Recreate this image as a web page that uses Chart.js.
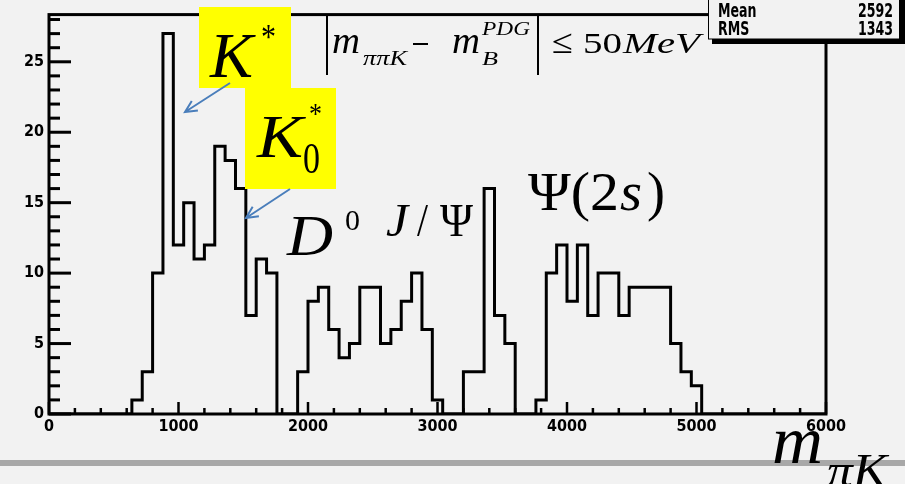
<!DOCTYPE html>
<html>
<head>
<meta charset="utf-8">
<script src="https://cdn.jsdelivr.net/npm/chart.js@4/dist/chart.umd.min.js"></script>
<style>
	html, body { margin: 0; padding: 0; background: #f2f2f2; }
	canvas { display: block; }
</style>
</head>
<body>
<canvas id="histo" width="905" height="484"></canvas>
<script>

// histogram m(piK), 75 bins from 0 to 6000
var xMin = 0;
var xMax = 6000;
var binWidth = 80;
var counts = [
	0, 0, 0, 0, 0, 0, 0, 0,
	1, 3, 10, 27, 12, 15, 11, 12, 19, 18, 16, 7, 11, 10, 0, 0,
	3, 8, 9, 6, 4, 5, 9, 9, 5, 6, 8, 10, 6, 1, 0, 0,
	3, 3, 16, 7, 5, 0, 0,
	1, 10, 12, 8, 12, 7, 10, 10, 7, 9, 9, 9, 9, 5, 3, 2,
	0, 0, 0, 0, 0, 0, 0, 0, 0, 0, 0, 0
];
var yMax = 28.35;
var xTickLabels = [0, 1000, 2000, 3000, 4000, 5000, 6000];
var yTickLabels = [0, 5, 10, 15, 20, 25];
var statNames = ["Mean", "RMS"];
var statValues = ["2592", "1343"];

var narrowBold = "'Liberation Sans Narrow', 'DejaVu Sans Condensed', sans-serif";
var serif = "'Liberation Serif', 'Times New Roman', serif";

function histPoints(){
	var pts = [];
	for (var i = 0; i < counts.length; i++){
		pts.push({ x: xMin + i * binWidth, y: counts[i] });
	}
	pts.push({ x: xMax, y: 0 });
	return pts;
}

function txt(ctx, t, x, y, size, italic, w){
	ctx.save();
	ctx.font = (italic ? "italic " : "") + size + "px " + serif;
	ctx.textAlign = "left";
	ctx.textBaseline = "alphabetic";
	ctx.translate(x, y);
	if (w){
		var mw = ctx.measureText(t).width;
		ctx.scale(w / mw, 1);
	}
	ctx.fillStyle = "#000";
	ctx.fillText(t, 0, 0);
	ctx.restore();
}

function arrow(ctx, x1, y1, x2, y2){
	var a = Math.atan2(y2 - y1, x2 - x1);
	ctx.save();
	ctx.strokeStyle = "#4a7ebb";
	ctx.lineWidth = 2;
	ctx.beginPath();
	ctx.moveTo(x1, y1);
	ctx.lineTo(x2, y2);
	ctx.moveTo(x2 - 13 * Math.cos(a - 0.45), y2 - 13 * Math.sin(a - 0.45));
	ctx.lineTo(x2, y2);
	ctx.lineTo(x2 - 13 * Math.cos(a + 0.45), y2 - 13 * Math.sin(a + 0.45));
	ctx.stroke();
	ctx.restore();
}

var rootStyle = {
	id: 'rootStyle',
	beforeDraw: function(chart){
		var ctx = chart.ctx;
		ctx.save();
		ctx.fillStyle = "#f2f2f2";
		ctx.fillRect(0, 0, chart.width, chart.height);
		ctx.restore();
	},
	afterDatasetsDraw: function(chart){
		var ctx = chart.ctx;
		var a = chart.chartArea;
		var sx = chart.scales.x;
		var sy = chart.scales.y;
		ctx.save();
		ctx.strokeStyle = "#000";
		ctx.lineWidth = 3;
		ctx.strokeRect(a.left, a.top, a.right - a.left, a.bottom - a.top);

		// y ticks, every 1, long at every 5
		for (var v = 0; v <= Math.floor(yMax); v++){
			var py = sy.getPixelForValue(v);
			ctx.beginPath();
			ctx.moveTo(a.left, py);
			ctx.lineTo(a.left + (v % 5 === 0 ? 22 : 11), py);
			ctx.stroke();
		}
		// x ticks, every 200, long at every 1000
		ctx.lineWidth = 2.5;
		for (var u = xMin; u <= xMax; u += 200){
			var px = sx.getPixelForValue(u);
			ctx.beginPath();
			ctx.moveTo(px, a.bottom);
			ctx.lineTo(px, a.bottom - (u % 1000 === 0 ? 12 : 6));
			ctx.stroke();
		}
		ctx.restore();
	},
	afterDraw: function(chart){
		var ctx = chart.ctx;

		// stats box with shadow
		ctx.save();
		ctx.fillStyle = "#000";
		ctx.fillRect(712, -4, 193, 48);
		ctx.fillStyle = "#f2f2f2";
		ctx.fillRect(708, -4, 192, 43);
		ctx.strokeStyle = "#000";
		ctx.lineWidth = 1;
		ctx.strokeRect(708.5, -4, 191, 43);
		ctx.fillStyle = "#000";
		ctx.font = "bold 14px " + narrowBold;
		for (var i = 0; i < statNames.length; i++){
			var by = 17 + i * 18;
			ctx.save();
			ctx.translate(718, by);
			ctx.scale(1, 1.35);
			ctx.textAlign = "left";
			ctx.fillText(statNames[i], 0, 0);
			ctx.restore();
			ctx.save();
			ctx.translate(893, by);
			ctx.scale(1, 1.35);
			ctx.textAlign = "right";
			ctx.fillText(statValues[i], 0, 0);
			ctx.restore();
		}
		ctx.restore();

		// cut formula
		ctx.save();
		ctx.strokeStyle = "#000";
		ctx.lineWidth = 2;
		ctx.beginPath();
		ctx.moveTo(327, 15); ctx.lineTo(327, 75);
		ctx.moveTo(538, 15); ctx.lineTo(538, 75);
		ctx.moveTo(413, 44); ctx.lineTo(428, 44);
		ctx.stroke();
		ctx.restore();
		txt(ctx, "m", 332, 53, 38, true, 28);
		txt(ctx, "ππK", 363, 65, 20, true, 44);
		txt(ctx, "m", 452, 53, 38, true, 28);
		txt(ctx, "PDG", 482, 35, 19, true, 48);
		txt(ctx, "B", 482, 65, 19, true, 16);
		txt(ctx, "≤", 552, 53, 34, false, 21);
		txt(ctx, "50", 583, 53, 30, false, 39);
		txt(ctx, "MeV", 623, 53, 30, true, 77);

		// resonance labels
		ctx.save();
		ctx.fillStyle = "#ffff00";
		ctx.fillRect(199, 7, 92, 81);
		ctx.fillRect(245, 88, 91, 101);
		ctx.restore();
		txt(ctx, "K", 210, 77, 64, true, 43);
		txt(ctx, "*", 261, 49, 36, false, 15);
		txt(ctx, "K", 257, 157, 62, true, 46);
		txt(ctx, "0", 303, 173, 44, false, 17);
		txt(ctx, "*", 309, 123, 30, false, 13);
		arrow(ctx, 230, 83, 185, 112);
		arrow(ctx, 290, 189, 246, 218);

		txt(ctx, "D", 287, 255, 56, true, 46);
		txt(ctx, "0", 345, 230, 29, false, 15);
		txt(ctx, "J", 386, 236, 46, true, 22);
		txt(ctx, "/", 417, 236, 46, false, 11);
		txt(ctx, "Ψ", 440, 236, 46, false, 33);
		txt(ctx, "Ψ(2", 528, 210, 54, false, 91);
		txt(ctx, "s", 620, 210, 54, true, 22);
		txt(ctx, ")", 647, 210, 54, false, 18);

		// slide separator and axis title
		ctx.save();
		ctx.fillStyle = "#a8a8a8";
		ctx.fillRect(0, 460, chart.width, 6);
		ctx.restore();
		txt(ctx, "m", 772, 463, 68, true, 51);
		txt(ctx, "πK", 827, 486, 46, true, 60);
	}
};

function init_histo(){

	if( typeof (Chart) === 'undefined'){ return; }

	var tickFont = { family: narrowBold, size: 16, weight: 'bold' };

	var histo_settings = {
		type: 'line',
		data: {
			datasets: [{
				data: histPoints(),
				stepped: true,
				borderColor: "#000",
				borderWidth: 3,
				pointRadius: 0,
				fill: false
			}]
		},
		options: {
			responsive: false,
			animation: false,
			layout: { padding: { left: 0, right: 79, top: 7, bottom: 0 } },
			plugins: { legend: false, tooltip: { enabled: false } },
			scales: {
				x: {
					type: 'linear',
					min: xMin,
					max: xMax,
					grid: { display: false, drawTicks: false },
					border: { display: false },
					afterFit: function(s){ s.height = 70; },
					afterBuildTicks: function(s){
						s.ticks = xTickLabels.map(function(v){ return { value: v }; });
					},
					ticks: {
						autoSkip: false,
						maxRotation: 0,
						padding: 3,
						color: "#000",
						font: tickFont,
						callback: function(v){ return String(v); }
					}
				},
				y: {
					min: 0,
					max: yMax,
					grid: { display: false, drawTicks: false },
					border: { display: false },
					afterFit: function(s){ s.width = 49; },
					afterBuildTicks: function(s){
						s.ticks = yTickLabels.map(function(v){ return { value: v }; });
					},
					ticks: {
						padding: 5,
						color: "#000",
						font: tickFont,
						callback: function(v){ return String(v); }
					}
				}
			}
		},
		plugins: [rootStyle]
	};

	var histo = new Chart(document.getElementById('histo'), histo_settings);
}

init_histo();

</script>
</body>
</html>
